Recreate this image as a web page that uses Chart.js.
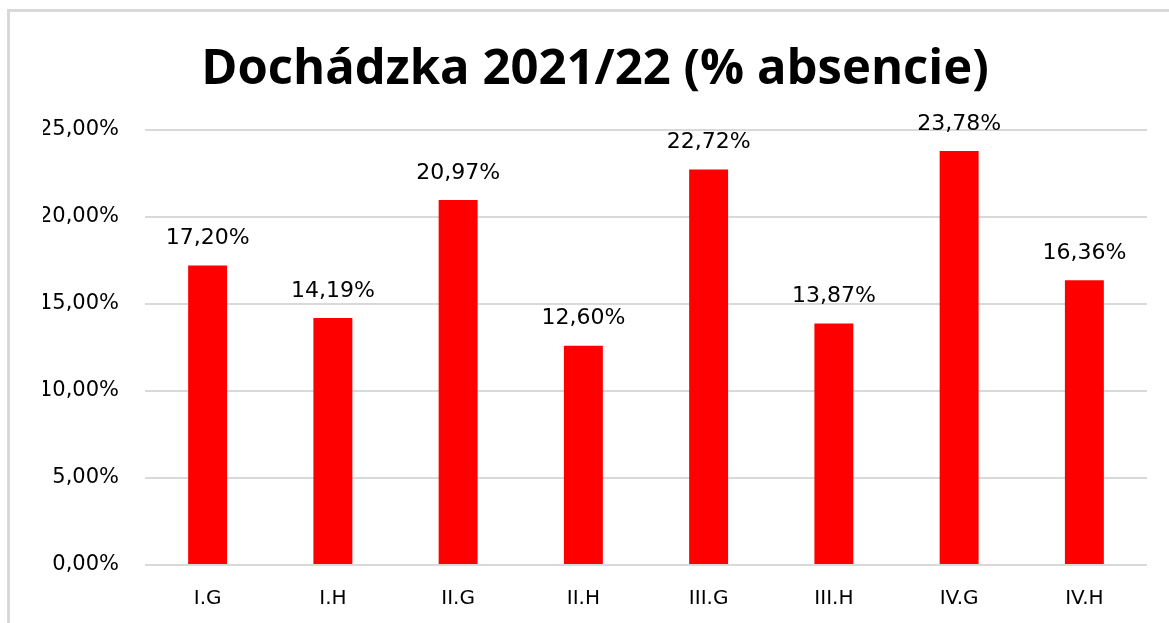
<!DOCTYPE html>
<html>
<head>
<meta charset="utf-8">
<script src="https://cdn.jsdelivr.net/npm/chart.js@4"></script>
<style>
  html, body { margin: 0; padding: 0; background: #fff; overflow: hidden; }
  #wrap { position: relative; width: 1169px; height: 623px; }
  #frame { position: absolute; left: 7px; top: 9px; width: 1300px; height: 800px;
           border-left: 3px solid #d9d9d9; border-top: 3px solid #d9d9d9; box-sizing: border-box; }
  canvas { position: absolute; left: 0; top: 0; }
</style>
</head>
<body>
<div id="wrap">
  <div id="frame"></div>
  <canvas id="c" width="1169" height="623"></canvas>
</div>
<script>
const categories = ['I.G', 'I.H', 'II.G', 'II.H', 'III.G', 'III.H', 'IV.G', 'IV.H'];
const absencie = [17.20, 14.19, 20.97, 12.60, 22.72, 13.87, 23.78, 16.36];
const yTicks = [0, 5, 10, 15, 20, 25];
const titleText = 'Dochádzka 2021/22 (% absencie)';

const fmt = v => v.toFixed(2).replace('.', ',') + '%';

const dataLabels = {
  id: 'dataLabels',
  afterDatasetsDraw(chart) {
    const ctx = chart.ctx;
    const meta = chart.getDatasetMeta(0);
    ctx.save();
    ctx.font = '22px "DejaVu Sans"';
    ctx.fillStyle = '#000';
    ctx.textAlign = 'center';
    ctx.textBaseline = 'middle';
    meta.data.forEach((bar, i) => {
      ctx.fillText(fmt(absencie[i]), bar.x, bar.y - 27);
    });
    ctx.restore();
  }
};

new Chart(document.getElementById('c'), {
  type: 'bar',
  data: {
    labels: categories,
    datasets: [{
      data: absencie,
      backgroundColor: '#ff0000',
      borderWidth: 0,
      categoryPercentage: 1,
      barPercentage: 0.311
    }]
  },
  options: {
    responsive: false,
    animation: false,
    devicePixelRatio: 1,
    layout: { padding: { left: 43, right: 22, top: 0, bottom: 0 } },
    plugins: {
      legend: { display: false },
      tooltip: { enabled: false },
      title: {
        display: true,
        text: titleText,
        color: '#000',
        font: { family: 'Open Sans', size: 49, weight: 'bold', lineHeight: 1.2 },
        padding: { top: 41, bottom: 30 }
      }
    },
    scales: {
      x: {
        grid: { display: false, drawTicks: false },
        border: { display: false },
        ticks: { color: '#000', font: { family: 'DejaVu Sans', size: 20 }, padding: 22 },
        afterFit(scale) { scale.height = 58; }
      },
      y: {
        min: 0, max: 25,
        afterBuildTicks(scale) { scale.ticks = yTicks.map(v => ({ value: v })); },
        grid: { color: '#d9d9d9', lineWidth: 2, drawTicks: false },
        border: { display: false },
        ticks: {
          color: '#000',
          font: { family: 'DejaVu Sans', size: 21 },
          padding: 26,
          callback: v => fmt(v)
        },
        afterFit(scale) { scale.width = 102; }
      }
    }
  },
  plugins: [dataLabels]
});
</script>
</body>
</html>
